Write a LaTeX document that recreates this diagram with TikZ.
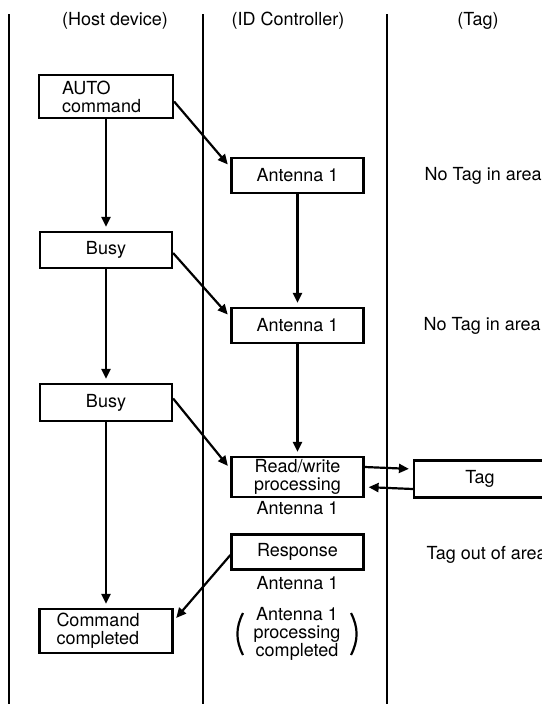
\documentclass[tikz,border=0pt]{standalone}
\usepackage{fontspec}
\setmainfont{TeX Gyre Heros}
\usetikzlibrary{arrows.meta}

\tikzset{
  box/.style={draw, line width=2.2pt, minimum width=132pt, minimum height=36pt, inner sep=0pt, align=center},
  lane/.style={line width=2.2pt},
  flow/.style={line width=2.2pt, -{Triangle[length=10pt,width=9pt]}, shorten >=4pt},
}

\begin{document}
\begin{tikzpicture}[x=1pt, y=-1pt, font=\fontsize{18}{18}\selectfont]
    \useasboundingbox (0,0) rectangle (541,704);
    % swim lanes
    \draw[lane] (9,14) -- (9,704);
    \draw[lane] (203,14) -- (203,704);
    \draw[lane] (387,14) -- (387,704);
    \node (hhost) at (115,21) {(Host device)};
    \node (hctrl) at (288,21) {(ID Controller)};
    \node (htag) at (478,21) {(Tag)};
    % host device
    \node[box, minimum height=43pt, text width=88pt, inner xsep=23pt, align=left] (auto) at (106,96.5) {AUTO\\command};
    \node[box] (busy1) at (106,250) {Busy};
    \node[box, minimum height=37pt] (busy2) at (106,402.5) {Busy};
    \node[box, minimum height=44pt, text width=99pt, inner xsep=17pt, align=left] (cmd) at (106,631) {Command\\completed};
    % ID controller
    \node[box, minimum height=35pt] (ant1) at (297.5,175.5) {Antenna 1};
    \node[box, minimum height=35pt] (ant2) at (297.5,325.5) {Antenna 1};
    \node[box, minimum height=40pt] (rw) at (297.5,477) {Read/write\\processing};
    \node (rwant) at (297.5,508) {Antenna 1};
    \node[box, minimum height=35pt] (resp) at (297.5,552) {Response};
    \node (respant) at (297.5,583) {Antenna 1};
    \node[align=center, inner sep=0pt] (done) at (297,634) {Antenna 1\\processing\\completed};
    \draw[line width=2.2pt] (243,613) to[bend right=27] (243,655);
    \draw[line width=2.2pt] (351,613) to[bend left=27] (351,655);
    % tag
    \node (none1) [anchor=west] at (421,175.5) {No Tag in area};
    \node (none2) [anchor=west] at (420,326) {No Tag in area};
    \node[box, minimum height=37pt] (tag) at (480,479) {Tag};
    \node (out) [anchor=west] at (423,555) {Tag out of area};
    % arrows
    \draw[flow] (auto.south) -- (busy1.north);
    \draw[flow] (busy1.south) -- (busy2.north);
    \draw[flow] (busy2.south) -- (cmd.north);
    \draw[flow] (ant1.south) -- (ant2.north);
    \draw[flow] (ant2.south) -- (rw.north);
    \draw[flow] ([yshift=-5pt]auto.east) -- ([yshift=8pt]ant1.west);
    \draw[flow] ([yshift=-3pt]busy1.east) -- ([yshift=8pt]ant2.west);
    \draw[flow] ([yshift=4pt]busy2.east) -- ([yshift=8pt]rw.west);
    \draw[flow] ([yshift=10pt]rw.east) -- ([yshift=10pt]tag.west);
    \draw[flow] ([yshift=-10pt]tag.west) -- ([yshift=-10pt]rw.east);
    \draw[flow] ([yshift=-3pt]resp.west) -- ([yshift=10pt]cmd.east);
\end{tikzpicture}
\end{document}
